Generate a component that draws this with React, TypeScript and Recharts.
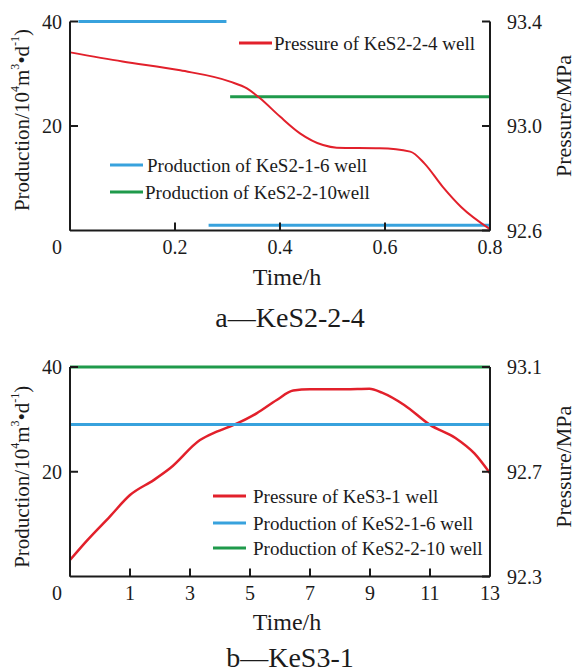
import { LineChart, Line, XAxis, YAxis, Legend } from 'recharts'

const FONT = 'Liberation Serif, serif'
const INK = '#1b1b1b'
const RED = '#e2202b'
const BLUE = '#38a2dd'
const GREEN = '#1f9a4b'

// a — KeS2-2-4
const aTicksX = [0, 0.2, 0.4, 0.6, 0.8]
const aTicksProd = [20, 40]
const aTicksPres = [92.6, 93.0, 93.4]
const aPresTime = [0, 0.1, 0.21, 0.305, 0.337, 0.362, 0.4, 0.438, 0.482, 0.508, 0.59, 0.648, 0.675, 0.71, 0.745, 0.8]
const aPres = [93.282, 93.247, 93.213, 93.17, 93.144, 93.106, 93.036, 92.972, 92.927, 92.917, 92.915, 92.902, 92.857, 92.767, 92.69, 92.605]
const aBlueHighTime = [0.016, 0.298]
const aBlueHigh = [40, 40]
const aBlueLowTime = [0.264, 0.8]
const aBlueLow = [1, 1]
const aGreenTime = [0.305, 0.8]
const aGreen = [25.6, 25.6]

// b — KeS3-1 (ticks are evenly spaced but labelled 0,1,3,...,13)
const bTimeLabels = ['0', '1', '3', '5', '7', '9', '11', '13']
const bTicksProd = [20, 40]
const bTicksPres = [92.3, 92.7, 93.1]
const bPresSlot = [0, 0.29, 0.66, 1.0, 1.4, 1.667, 2.167, 2.445, 2.72, 3.11, 3.445, 3.72, 4.0, 4.59, 4.99, 5.2, 5.57, 6.0, 6.43, 6.74, 7]
const bPres = [92.363, 92.439, 92.528, 92.611, 92.669, 92.713, 92.821, 92.853, 92.878, 92.923, 92.974, 93.01, 93.015, 93.015, 93.017, 93.002, 92.955, 92.879, 92.828, 92.77, 92.694]
const bBlueSlot = [0, 7]
const bBlue = [29, 29]
const bGreenSlot = [0, 7]
const bGreen = [40, 40]

const zip = (xs: number[], ys: number[]) => xs.map((t, i) => ({ t, v: ys[i] }))

const axisStyle = { stroke: INK, strokeWidth: 2 }
const tickText = { fontFamily: FONT, fontSize: 20, fill: INK }

function XTick({ x, y, payload, labels }: any) {
  const v = payload.value
  const text = labels ? labels[v] : String(v)
  const dx = v === 0 ? -13 : 0
  return (
    <text x={x + dx} y={y} dy="0.71em" textAnchor="middle" style={{ fontFamily: FONT }} fontSize={20} fill={INK}>
      {text}
    </text>
  )
}

function ProdTitle({ viewBox, dy }: any) {
  const cx = viewBox.x + 22
  const cy = viewBox.y + viewBox.height / 2 + dy
  return (
    <text x={cx} y={cy} transform={`rotate(-90 ${cx} ${cy})`} textAnchor="middle" dominantBaseline="central" style={{ fontFamily: FONT }} fontSize={21} fill={INK}>
      Production/10<tspan dy={-7} fontSize={12}>4</tspan>
      <tspan dy={7}>m</tspan>
      <tspan dy={-7} fontSize={12}>3</tspan>
      <tspan dy={7}>•d</tspan>
      <tspan dy={-7} fontSize={12}>-1</tspan>
      <tspan dy={7}>)</tspan>
    </text>
  )
}

function PresTitle({ viewBox, dy }: any) {
  const cx = viewBox.x + 73
  const cy = viewBox.y + viewBox.height / 2 + dy
  return (
    <text x={cx} y={cy} transform={`rotate(-90 ${cx} ${cy})`} textAnchor="middle" dominantBaseline="central" style={{ fontFamily: FONT }} fontSize={22} fill={INK}>
      Pressure/MPa
    </text>
  )
}

function TimeTitle({ viewBox, timeDy, caption, capBase }: any) {
  const cx = viewBox.x + viewBox.width / 2 + 7
  return (
    <g>
      <text x={cx} y={viewBox.y + timeDy} textAnchor="middle" dominantBaseline="central" style={{ fontFamily: FONT }} fontSize={24} fill={INK}>
        Time/h
      </text>
      <text x={cx + 3} y={viewBox.y + capBase} textAnchor="middle" style={{ fontFamily: FONT }} fontSize={28} fill={INK}>
        {caption}
      </text>
    </g>
  )
}

function PlacedLegend({ payload, spots, height }: any) {
  return (
    <svg width={577} height={height} style={{ display: 'block', overflow: 'visible' }}>
      {(payload || []).filter((p: any) => spots[p.value]).map((p: any) => {
        const s = spots[p.value]
        return (
          <g key={p.value}>
            <line x1={s.x} x2={s.x + 33} y1={s.y} y2={s.y} stroke={p.color} strokeWidth={3} />
            <text x={s.tx} y={s.y} dominantBaseline="central" style={{ fontFamily: FONT }} fontSize={19} fill={INK}>
              {p.value}
            </text>
          </g>
        )
      })}
    </svg>
  )
}

const aSpots = {
  'Pressure of KeS2-2-4 well': { x: 239, y: 43, tx: 274 },
  'Production of KeS2-1-6 well': { x: 110, y: 165, tx: 147 },
  'Production of KeS2-2-10well': { x: 110, y: 192, tx: 145 },
}

const bSpots = {
  'Pressure of KeS3-1 well': { x: 213, y: 161, tx: 253 },
  'Production of KeS2-1-6 well': { x: 213, y: 188, tx: 253 },
  'Production of KeS2-2-10 well': { x: 213, y: 213, tx: 253 },
}

function ChartA() {
  return (
    <LineChart width={577} height={335} margin={{ top: 21.5, right: 0, bottom: 74.5, left: 0 }}>
      <XAxis
        type="number"
        dataKey="t"
        domain={[0, 0.8]}
        ticks={aTicksX}
        interval={0}
        height={30}
        axisLine={axisStyle}
        tickLine={axisStyle}
        tickSize={-8}
        tickMargin={17}
        tick={<XTick />}
        label={(p: any) => <TimeTitle viewBox={p.viewBox} timeDy={46.5} caption="a—KeS2-2-4" capBase={96} />}
      />
      <YAxis
        yAxisId="prod"
        orientation="left"
        width={70}
        domain={[0, 40]}
        ticks={aTicksProd}
        interval={0}
        axisLine={axisStyle}
        tickLine={axisStyle}
        tickSize={-8}
        tickMargin={16}
        tick={tickText}
        label={(p: any) => <ProdTitle viewBox={p.viewBox} dy={-6} />}
      />
      <YAxis
        yAxisId="pres"
        orientation="right"
        width={87}
        domain={[92.6, 93.4]}
        ticks={aTicksPres}
        interval={0}
        axisLine={axisStyle}
        tickLine={axisStyle}
        tickSize={-8}
        tickMargin={25}
        tick={{ ...tickText, textAnchor: 'start' }}
        tickFormatter={(v: number) => v.toFixed(1)}
        label={(p: any) => <PresTitle viewBox={p.viewBox} dy={-10} />}
      />
      <Line yAxisId="prod" data={zip(aBlueHighTime, aBlueHigh)} dataKey="v" name="Production of KeS2-1-6 well" stroke={BLUE} strokeWidth={3} dot={false} isAnimationActive={false} />
      <Line yAxisId="prod" data={zip(aBlueLowTime, aBlueLow)} dataKey="v" name="Production of KeS2-1-6 well (late)" legendType="none" stroke={BLUE} strokeWidth={3} dot={false} isAnimationActive={false} />
      <Line yAxisId="prod" data={zip(aGreenTime, aGreen)} dataKey="v" name="Production of KeS2-2-10well" stroke={GREEN} strokeWidth={3} dot={false} isAnimationActive={false} />
      <Line yAxisId="pres" type="monotone" data={zip(aPresTime, aPres)} dataKey="v" name="Pressure of KeS2-2-4 well" stroke={RED} strokeWidth={2} dot={false} isAnimationActive={false} />
      <Legend
        layout="horizontal"
        verticalAlign="middle"
        align="center"
        wrapperStyle={{ left: 0, top: 0, width: 577, height: 335, pointerEvents: 'none' }}
        content={(p: any) => <PlacedLegend payload={p.payload} spots={aSpots} height={335} />}
      />
    </LineChart>
  )
}

function ChartB() {
  return (
    <LineChart width={577} height={336} margin={{ top: 32, right: 0, bottom: 64.5, left: 0 }}>
      <XAxis
        type="number"
        dataKey="t"
        domain={[0, 7]}
        ticks={bTimeLabels.map((_, i) => i)}
        interval={0}
        height={30}
        axisLine={axisStyle}
        tickLine={axisStyle}
        tickSize={-8}
        tickMargin={17}
        tick={<XTick labels={bTimeLabels} />}
        label={(p: any) => <TimeTitle viewBox={p.viewBox} timeDy={45} caption="b—KeS3-1" capBase={90} />}
      />
      <YAxis
        yAxisId="prod"
        orientation="left"
        width={70}
        domain={[0, 40]}
        ticks={bTicksProd}
        interval={0}
        axisLine={axisStyle}
        tickLine={axisStyle}
        tickSize={-8}
        tickMargin={16}
        tick={tickText}
        label={(p: any) => <ProdTitle viewBox={p.viewBox} dy={5} />}
      />
      <YAxis
        yAxisId="pres"
        orientation="right"
        width={87}
        domain={[92.3, 93.1]}
        ticks={bTicksPres}
        interval={0}
        axisLine={axisStyle}
        tickLine={axisStyle}
        tickSize={-8}
        tickMargin={25}
        tick={{ ...tickText, textAnchor: 'start' }}
        tickFormatter={(v: number) => v.toFixed(1)}
        label={(p: any) => <PresTitle viewBox={p.viewBox} dy={-5} />}
      />
      <Line yAxisId="pres" type="monotone" data={zip(bPresSlot, bPres)} dataKey="v" name="Pressure of KeS3-1 well" stroke={RED} strokeWidth={2.5} dot={false} isAnimationActive={false} />
      <Line yAxisId="prod" data={zip(bBlueSlot, bBlue)} dataKey="v" name="Production of KeS2-1-6 well" stroke={BLUE} strokeWidth={3} dot={false} isAnimationActive={false} />
      <Line yAxisId="prod" data={zip(bGreenSlot, bGreen)} dataKey="v" name="Production of KeS2-2-10 well" stroke={GREEN} strokeWidth={3} dot={false} isAnimationActive={false} />
      <Legend
        layout="horizontal"
        verticalAlign="middle"
        align="center"
        wrapperStyle={{ left: 0, top: 0, width: 577, height: 336, pointerEvents: 'none' }}
        content={(p: any) => <PlacedLegend payload={p.payload} spots={bSpots} height={336} />}
      />
    </LineChart>
  )
}

export default function App() {
  return (
    <div style={{ position: 'absolute', left: 0, top: 0, width: 577, height: 671, background: '#fff' }}>
      <ChartA />
      <ChartB />
    </div>
  )
}
